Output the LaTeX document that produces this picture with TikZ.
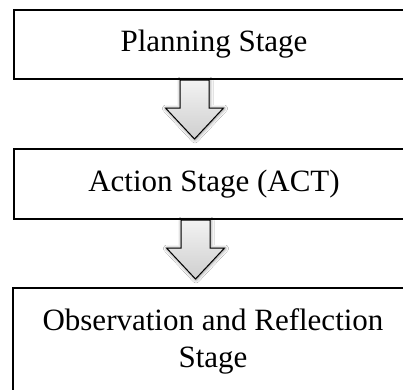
\documentclass[tikz,border=0pt]{standalone}
\usepackage{fontspec}
\setmainfont{Liberation Serif}
\usetikzlibrary{shadows.blur}
\begin{document}
\begin{tikzpicture}[x=1pt,y=1pt,
  stagebox/.style={draw=black, line width=2pt, rectangle, minimum width=400pt,
    align=center, inner sep=0pt, font=\fontsize{31}{37}\selectfont},
  arrowstyle/.style={draw=black, line width=1pt, line join=miter,
    top color=gray!10, bottom color=gray!38,
    blur shadow={shadow xshift=0.5pt, shadow yshift=-0.5pt,
      shadow blur radius=3.5pt, shadow opacity=55, shadow blur steps=6}},
  bigarrow/.pic={
    \path[arrowstyle] (-14.5,0) -- (14.5,0) -- (14.5,-28) -- (29,-28)
      -- (0,-59) -- (-29,-28) -- (-14.5,-28) -- cycle;
  }]
\clip (0,0) rectangle (403,-389);
\fill[white] (0,0) rectangle (403,-389);
\node[stagebox, minimum height=69pt] (planning) at (214,-44.5) {Planning Stage};
\node[stagebox, minimum height=70pt] (action) at (214,-184) {Action Stage (ACT)};
\node[stagebox, minimum height=106pt] (observe) at (213,-341)
  {Observation and Reflection\\Stage};
\pic at ([xshift=-19.5pt]planning.south) {bigarrow};
\pic at ([xshift=-18.5pt]action.south) {bigarrow};
\end{tikzpicture}
\end{document}
